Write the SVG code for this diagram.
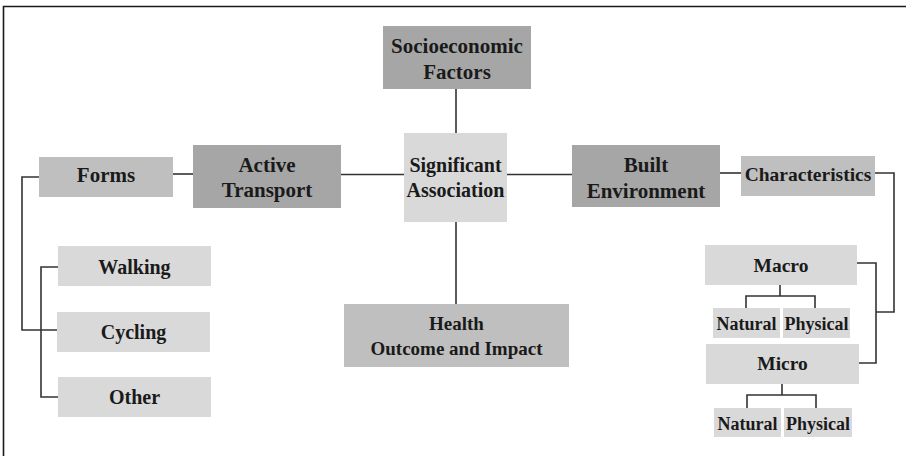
<svg xmlns="http://www.w3.org/2000/svg" width="906" height="456" viewBox="0 0 906 456">
  <style>
    .dark { fill: #a6a6a6; }
    .mid { fill: #bfbfbf; }
    .light { fill: #d9d9d9; }
    text { font-family: "Liberation Serif", "Times New Roman", serif; font-weight: bold; font-size: 20px; fill: #1a1a1a; text-anchor: middle; dominant-baseline: central; }
    text.big { font-size: 21px; }
    text.mid19 { font-size: 19px; }
    text.sub { font-size: 19.5px; }
    text.small { font-size: 18px; }
    .conn { fill: none; stroke: #333333; stroke-width: 1.6; }
  </style>
  <rect width="906" height="456" fill="#ffffff"/>
  <!-- frame -->
  <path d="M3.5 460 V6.5 H910" fill="none" stroke="#1a1a1a" stroke-width="1.6"/>

  <g id="connectors" class="conn">
    <path d="M456 89 V133"/>
    <path d="M456 222 V304"/>
    <path d="M341 174.5 H404"/>
    <path d="M507 174.5 H572"/>
    <path d="M173 174 H193"/>
    <path d="M720 173 H741"/>
    <!-- Forms branch -->
    <path d="M39 177 H22 V330 H57"/>
    <path d="M58 267 H41 V397 H58"/>
    <!-- Characteristics branch -->
    <path d="M875 173 H894 V312 H876"/>
    <path d="M857 263 H876 V363 H859"/>
    <!-- Macro / Micro subtrees -->
    <path d="M780 285 V296 M746 308 V296 H815 V308"/>
    <path d="M782 384 V395 M747 408 V395 H816 V408"/>
  </g>

  <g id="socioeconomic">
    <rect class="dark" x="383" y="26" width="148" height="63"/>
    <text class="big" x="457" y="46">Socioeconomic</text>
    <text class="big" x="457" y="72">Factors</text>
  </g>
  <g id="significant">
    <rect class="light" x="404" y="133" width="103" height="89"/>
    <text x="455.5" y="165">Significant</text>
    <text x="455.5" y="190">Association</text>
  </g>
  <g id="active-transport">
    <rect class="dark" x="193" y="145" width="148" height="63"/>
    <text class="big" x="267" y="165">Active</text>
    <text class="big" x="267" y="190">Transport</text>
  </g>
  <g id="forms">
    <rect class="mid" x="39" y="157" width="134" height="40"/>
    <text class="big" x="106" y="175">Forms</text>
  </g>
  <g id="built-environment">
    <rect class="dark" x="572" y="145" width="148" height="62"/>
    <text class="big" x="646" y="165">Built</text>
    <text class="big" x="646" y="191">Environment</text>
  </g>
  <g id="characteristics">
    <rect class="mid" x="741" y="156" width="134" height="40"/>
    <text class="sub" x="808" y="174">Characteristics</text>
  </g>
  <g id="health">
    <rect class="mid" x="344" y="304" width="225" height="63"/>
    <text class="mid19" x="456.5" y="323">Health</text>
    <text class="mid19" x="456.5" y="348">Outcome and Impact</text>
  </g>
  <g id="walking">
    <rect class="light" x="58" y="246" width="153" height="40"/>
    <text x="134.5" y="267">Walking</text>
  </g>
  <g id="cycling">
    <rect class="light" x="57" y="312" width="153" height="40"/>
    <text x="133.5" y="332">Cycling</text>
  </g>
  <g id="other">
    <rect class="light" x="58" y="377" width="153" height="40"/>
    <text x="134.5" y="397">Other</text>
  </g>
  <g id="macro">
    <rect class="light" x="705" y="245" width="152" height="40"/>
    <text class="sub" x="781" y="265">Macro</text>
  </g>
  <g id="macro-natural">
    <rect class="light" x="713" y="308" width="67" height="30"/>
    <text class="small" x="746.5" y="324">Natural</text>
  </g>
  <g id="macro-physical">
    <rect class="light" x="783" y="308" width="67" height="30"/>
    <text class="small" x="816.5" y="324">Physical</text>
  </g>
  <g id="micro">
    <rect class="light" x="706" y="344" width="153" height="40"/>
    <text class="sub" x="782.5" y="363">Micro</text>
  </g>
  <g id="micro-natural">
    <rect class="light" x="714" y="408" width="67" height="29"/>
    <text class="small" x="747.5" y="424">Natural</text>
  </g>
  <g id="micro-physical">
    <rect class="light" x="784" y="408" width="68" height="29"/>
    <text class="small" x="818" y="424">Physical</text>
  </g>
</svg>
